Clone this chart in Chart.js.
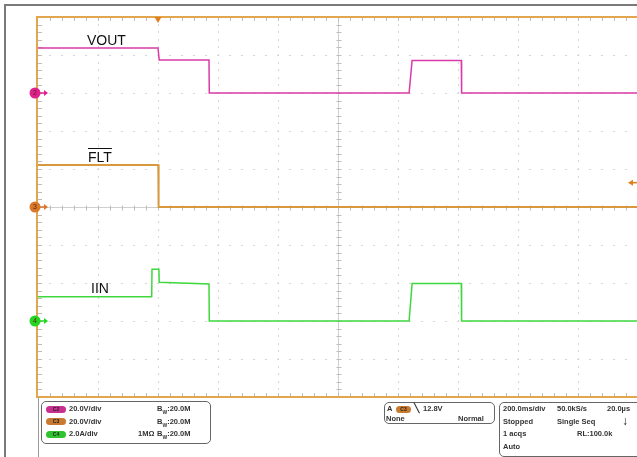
<!DOCTYPE html>
<html>
<head>
<meta charset="utf-8">
<script src="https://cdn.jsdelivr.net/npm/chart.js@4.4.1/dist/chart.umd.min.js"></script>
<style>
html, body { margin:0; padding:0; background:#fff; overflow:hidden; width:637px; height:457px; }
#wrap { position:relative; width:637px; height:457px; overflow:hidden; font-family:"Liberation Sans", Arial, sans-serif; }
#scope { position:absolute; left:0; top:0; }
.frameTop { position:absolute; left:5px; top:4px; width:640px; height:2px; background:#7a7a7a; }
.frameLeft { position:absolute; left:4px; top:4px; width:2px; height:460px; background:#7a7a7a; }
.panelLine { position:absolute; left:38px; top:398px; width:1px; height:60px; background:#9a9a9a; }
.lbl { position:absolute; font-size:14px; line-height:14px; color:#111; white-space:nowrap; }
.box { position:absolute; border:1px solid #666; border-radius:5px; background:#fff; }
.t { position:absolute; font-size:7.5px; font-weight:bold; color:#333; white-space:nowrap; line-height:8px; }
.pill { position:absolute; width:20px; height:7px; border-radius:3.5px; font-size:5px; line-height:7px; text-align:center; color:#222; font-weight:bold; }
</style>
</head>
<body>
<div id="wrap">
  <canvas id="scope" width="645" height="457"></canvas>
  <div class="frameTop"></div>
  <div class="frameLeft"></div>
  <div class="panelLine"></div>

  <div class="lbl" style="left:87px; top:33px;">VOUT</div>
  <div class="lbl" style="left:88px; top:150px; text-decoration:overline;">FLT</div>
  <div class="lbl" style="left:91px; top:281px;">IIN</div>

  <!-- channel settings box -->
  <div class="box" style="left:41px; top:401px; width:168px; height:41px;"></div>
  <div class="pill" style="left:46px; top:406px; background:#c8308f;">C2</div>
  <div class="t" style="left:69px; top:405px;">20.0V/div</div>
  <div class="t" style="left:157px; top:405px;">B<sub style="font-size:5px">W</sub>:20.0M</div>
  <div class="pill" style="left:46px; top:418px; background:#c87a30;">C3</div>
  <div class="t" style="left:69px; top:418px;">20.0V/div</div>
  <div class="t" style="left:157px; top:418px;">B<sub style="font-size:5px">W</sub>:20.0M</div>
  <div class="pill" style="left:46px; top:431px; background:#2fc42f;">C4</div>
  <div class="t" style="left:69px; top:430px;">2.0A/div</div>
  <div class="t" style="left:138px; top:430px;">1MΩ</div>
  <div class="t" style="left:157px; top:430px;">B<sub style="font-size:5px">W</sub>:20.0M</div>

  <!-- trigger box -->
  <div class="box" style="left:384px; top:402px; width:109px; height:20px;"></div>
  <div class="t" style="left:387px; top:405px;">A</div>
  <div class="pill" style="left:396px; top:406px; width:15px; background:#c87a30;">C3</div>
  <div class="t" style="left:414px; top:404px; font-size:9px;">╲</div>
  <div class="t" style="left:423px; top:405px;">12.8V</div>
  <div class="t" style="left:386px; top:415px;">None</div>
  <div class="t" style="left:458px; top:415px;">Normal</div>

  <!-- timebase box -->
  <div class="box" style="left:499px; top:402px; width:150px; height:53px;"></div>
  <div class="t" style="left:503px; top:405px;">200.0ms/div</div>
  <div class="t" style="left:557px; top:405px;">50.0kS/s</div>
  <div class="t" style="left:607px; top:405px;">20.0µs</div>
  <div class="t" style="left:503px; top:418px;">Stopped</div>
  <div class="t" style="left:557px; top:418px;">Single Seq</div>
  <div class="t" style="left:622px; top:415px; font-size:12px; line-height:12px; color:#111;">&#x2193;</div>
  <div class="t" style="left:503px; top:430px;">1 acqs</div>
  <div class="t" style="left:577px; top:430px;">RL:100.0k</div>
  <div class="t" style="left:503px; top:443px;">Auto</div>
</div>

<script>
// time base: 200 ms/div, 10 divisions across
const timeMin = 0;
const timeMax = 2000;
const msPerDiv = 200;
const numDivsY = 10;

// channel scale (per div) and ground position (divisions from bottom)
const voutScale = 20, voutPos = 8;   // C2, V/div
const fltScale = 20, fltPos = 5;     // C3, V/div
const iinScale = 2, iinPos = 2;      // C4, A/div
const trigLevel = 12.8;              // V on C3
const trigTime = 400;                // ms

// VOUT (V)
const voutTime  = [0, 400, 404, 570, 571, 1237, 1247, 1411, 1412, 2000];
const voutVolts = [23.7, 23.7, 17.4, 17.4, 0, 0, 17.1, 17.1, 0, 0];

// FLT (V)
const fltTime  = [0, 401, 402, 2000];
const fltVolts = [22.1, 22.1, 0, 0];

// IIN (A)
const iinTime = [0, 379, 380, 403, 404, 570, 571, 1237, 1247, 1411, 1412, 2000];
const iinAmps = [1.28, 1.28, 2.72, 2.72, 2.04, 1.95, 0, 0, 1.98, 1.98, 0, 0];

function toPoints(times, vals, scale, pos) {
  return times.map((t, i) => ({ x: t, y: pos + vals[i] / scale }));
}

const scopeGrid = {
  id: 'scopeGrid',
  beforeDatasetsDraw(chart) {
    const { ctx, chartArea: a, scales: { x, y } } = chart;
    ctx.save();
    // dotted graticule
    ctx.fillStyle = '#d6d6d6';
    for (let i = 1; i < 10; i++) {
      if (i === 5) continue;
      const gx = Math.round(x.getPixelForValue(i * msPerDiv));
      for (let j = 1; j < numDivsY * 5; j++) {
        const gy = Math.round(y.getPixelForValue(j * 0.2));
        ctx.fillRect(gx, gy - 1, 1, 2);
      }
    }
    for (let j = 1; j < numDivsY; j++) {
      if (j === 5) continue;
      const gy = Math.round(y.getPixelForValue(j));
      for (let i = 1; i < 50; i++) {
        const gx = Math.round(x.getPixelForValue(i * msPerDiv / 5));
        ctx.fillRect(gx - 1, gy, 2, 1);
      }
    }
    // center crosshair with minor ticks
    const cx = Math.round(x.getPixelForValue((timeMin + timeMax) / 2)) + 0.5;
    const cy = Math.round(y.getPixelForValue(numDivsY / 2)) + 0.5;
    ctx.strokeStyle = '#cfcfcf';
    ctx.lineWidth = 1;
    ctx.beginPath();
    ctx.moveTo(cx, a.top); ctx.lineTo(cx, a.bottom);
    ctx.moveTo(a.left, cy); ctx.lineTo(a.right, cy);
    ctx.stroke();
    ctx.strokeStyle = '#bdbdbd';
    ctx.beginPath();
    for (let j = 1; j < numDivsY * 5; j++) {
      const gy = Math.round(y.getPixelForValue(j * 0.2)) + 0.5;
      ctx.moveTo(cx - 2, gy); ctx.lineTo(cx + 3, gy);
      ctx.moveTo(a.left, gy); ctx.lineTo(a.left + 4, gy);
    }
    for (let i = 1; i < 50; i++) {
      const gx = Math.round(x.getPixelForValue(i * msPerDiv / 5)) + 0.5;
      ctx.moveTo(gx, cy - 2); ctx.lineTo(gx, cy + 3);
      ctx.moveTo(gx, a.top); ctx.lineTo(gx, a.top + 4);
      ctx.moveTo(gx, a.bottom); ctx.lineTo(gx, a.bottom - 4);
    }
    ctx.stroke();
    // orange border
    ctx.strokeStyle = '#e2a64e';
    ctx.lineWidth = 2;
    ctx.beginPath();
    ctx.moveTo(a.right + 2, a.top); ctx.lineTo(a.left - 1, a.top);
    ctx.lineTo(a.left - 1, a.bottom); ctx.lineTo(a.right + 2, a.bottom);
    ctx.stroke();
    ctx.restore();
  },
  afterDatasetsDraw(chart) {
    const { ctx, chartArea: a, scales: { x, y } } = chart;
    ctx.save();
    const marks = [
      { n: '2', pos: voutPos, col: '#e0208e' },
      { n: '3', pos: fltPos, col: '#d9782a' },
      { n: '4', pos: iinPos, col: '#22d622' }
    ];
    marks.forEach(m => {
      const py = y.getPixelForValue(m.pos);
      ctx.fillStyle = m.col;
      ctx.beginPath();
      ctx.arc(a.left - 3, py, 5.5, 0, Math.PI * 2);
      ctx.fill();
      ctx.strokeStyle = m.col;
      ctx.lineWidth = 1.5;
      ctx.beginPath();
      ctx.moveTo(a.left + 2, py); ctx.lineTo(a.left + 8, py);
      ctx.stroke();
      ctx.beginPath();
      ctx.moveTo(a.left + 10, py); ctx.lineTo(a.left + 6, py - 3); ctx.lineTo(a.left + 6, py + 3);
      ctx.closePath(); ctx.fill();
      ctx.fillStyle = '#5a2a10';
      ctx.font = '7px "Liberation Sans", Arial, sans-serif';
      ctx.textAlign = 'center';
      ctx.textBaseline = 'middle';
      ctx.fillText(m.n, a.left - 3, py + 0.5);
    });
    // trigger position marker
    const tx = x.getPixelForValue(trigTime);
    ctx.fillStyle = '#e07f20';
    ctx.beginPath();
    ctx.moveTo(tx - 3.5, a.top); ctx.lineTo(tx + 3.5, a.top); ctx.lineTo(tx, a.top + 6);
    ctx.closePath(); ctx.fill();
    // trigger level marker
    const ty = y.getPixelForValue(fltPos + trigLevel / fltScale);
    const rx = x.getPixelForValue(timeMax) - 10;
    ctx.beginPath();
    ctx.moveTo(rx, ty); ctx.lineTo(rx + 5, ty - 3); ctx.lineTo(rx + 5, ty + 3);
    ctx.closePath(); ctx.fill();
    ctx.strokeStyle = '#e07f20';
    ctx.lineWidth = 1.5;
    ctx.beginPath();
    ctx.moveTo(rx + 4, ty); ctx.lineTo(rx + 12, ty);
    ctx.stroke();
    ctx.restore();
  }
};

const ctx = document.getElementById('scope').getContext('2d');
const chart = new Chart(ctx, {
  type: 'line',
  data: {
    datasets: [
      { label: 'FLT', data: toPoints(fltTime, fltVolts, fltScale, fltPos),
        borderColor: '#d8983e', borderWidth: 2 },
      { label: 'VOUT', data: toPoints(voutTime, voutVolts, voutScale, voutPos),
        borderColor: '#d93aa8', borderWidth: 1.5 },
      { label: 'IIN', data: toPoints(iinTime, iinAmps, iinScale, iinPos),
        borderColor: '#3ed83e', borderWidth: 1.5 }
    ]
  },
  options: {
    responsive: false,
    animation: false,
    devicePixelRatio: 1,
    layout: { padding: { left: 38, top: 17, right: 7, bottom: 60 } },
    elements: { point: { radius: 0 }, line: { tension: 0 } },
    plugins: { legend: { display: false }, tooltip: { enabled: false } },
    scales: {
      x: { type: 'linear', min: timeMin, max: timeMax, display: false },
      y: { type: 'linear', min: 0, max: numDivsY, display: false }
    }
  },
  plugins: [scopeGrid]
});
</script>
</body>
</html>
